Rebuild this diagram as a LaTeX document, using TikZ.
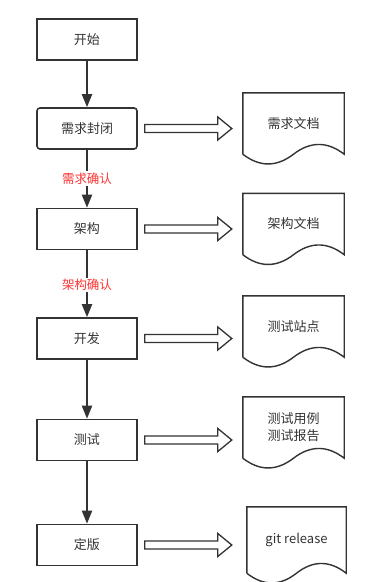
\documentclass[tikz,border=0pt]{standalone}
\usepackage{fontspec}
\setmainfont{Noto Sans CJK SC}
\usetikzlibrary{arrows.meta, calc}

\definecolor{linegray}{HTML}{333333}
\definecolor{notered}{HTML}{FF3333}

% document outline round a node (wavy bottom)
\newcommand{\docshape}[1]{%
  \draw[docline] (#1.south west) -- (#1.north west) -- (#1.north east) -- (#1.south east)
    .. controls ($(#1.south east)!1/6!(#1.south west)+(0,-13)$) and ($(#1.south east)!1/3!(#1.south west)+(0,-13)$) .. ($(#1.south east)!0.5!(#1.south west)$)
    .. controls ($(#1.south east)!2/3!(#1.south west)+(0,13)$) and ($(#1.south east)!5/6!(#1.south west)+(0,13)$) .. (#1.south west);
}

% hollow arrow from a step to its document
\newcommand{\fatarrow}[3][11]{%
  \draw[fat] let \p1=($(#2.east)+(7,0)$), \p2=($(#3.west)+(-#1,0)$) in
    (\x1,\y1+4pt) -- (\x2-14pt,\y1+4pt) -- (\x2-14pt,\y1+11.5pt) -- (\x2,\y1)
    -- (\x2-14pt,\y1-11.5pt) -- (\x2-14pt,\y1-4pt) -- (\x1,\y1-4pt) -- cycle;
}

\begin{document}
\begin{tikzpicture}[
    x=1pt, y=-1pt,
    >={Triangle[length=13pt, width=10pt]}, % Default arrow tip
    box/.style={draw=linegray, line width=1.6pt, minimum width=100pt, minimum height=41pt,
        inner sep=0pt, text=linegray, font=\fontsize{13}{15}\selectfont}, % Process steps
    docbox/.style={minimum width=101pt, minimum height=61pt, inner sep=0pt, align=center,
        text=linegray, font=\fontsize{13}{17}\selectfont}, % Document bodies
    docline/.style={draw=linegray, line width=1.4pt},
    flow/.style={->, draw=linegray, line width=2pt}, % Vertical flow
    fat/.style={draw=linegray, line width=1.3pt, fill=white, line join=miter},
    labelstyle/.style={fill=white, text=notered, inner sep=1.5pt, font=\fontsize{12.5}{14}\selectfont}
]
    \useasboundingbox (0,0) rectangle (386,582);

    % Process steps
    \node[box] (start) at (87,39.5) {开始};
    \node[box, rounded corners=3pt] (req) at (87,128.5) {需求封闭};
    \node[box] (arch) at (87,229) {架构};
    \node[box] (dev) at (87,338.5) {开发};
    \node[box] (test) at (87,440) {测试};
    \node[box] (final) at (87,545) {定版};

    % Documents
    \node[docbox] (reqdoc) at (293.5,123.5) {需求文档};
    \node[docbox] (archdoc) at (293.5,224) {架构文档};
    \node[docbox] (sitedoc) at (293.5,326.5) {测试站点};
    \node[docbox] (casedoc) at (293.5,427.5) {测试用例\\测试报告};
    \node[docbox, minimum width=99pt, minimum height=66pt] (reldoc) at (296.5,540) {git release};
    \foreach \d in {reqdoc, archdoc, sitedoc, casedoc, reldoc} {\docshape{\d}}

    % Flow between steps
    \draw[flow] (start) -- (req);
    \draw[flow] (req) -- node[labelstyle] {需求确认} (arch);
    \draw[flow] (arch) -- node[labelstyle, pos=0.52] {架构确认} (dev);
    \draw[flow] (dev) -- (test);
    \draw[flow] (test) -- (final);

    % Outputs
    \fatarrow{req}{reqdoc}
    \fatarrow{arch}{archdoc}
    \fatarrow{dev}{sitedoc}
    \fatarrow{test}{casedoc}
    \fatarrow[15]{final}{reldoc}

\end{tikzpicture}
\end{document}
